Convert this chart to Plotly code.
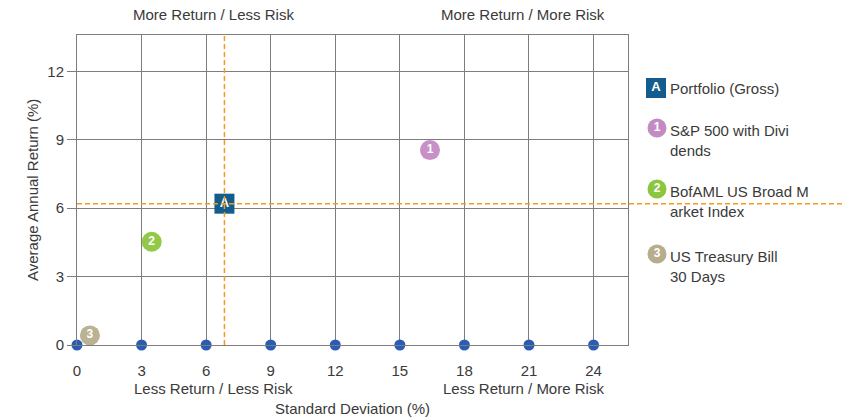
import plotly.graph_objects as go

# Risk / return data
portfolio_name = "Portfolio (Gross)"
portfolio_sd = [6.85]
portfolio_ret = [6.2]

bench_labels = ["1", "2", "3"]
bench_names = [["S&P 500 with Divi", "dends"],
               ["BofAML US Broad M", "arket Index"],
               ["US Treasury Bill", "30 Days"]]
bench_sd = [16.4, 3.47, 0.6]
bench_ret = [8.55, 4.53, 0.42]
bench_colors = ["#c48ac4", "#8cc63e", "#b7ad8d"]

x_ticks = [0, 3, 6, 9, 12, 15, 18, 21, 24]
y_ticks = [0, 3, 6, 9, 12]

FONT = "Liberation Sans, Arial, sans-serif"
FS = 15
TXT = "#3a3a3a"
GRID = "#7d7d7d"
ORANGE = "#f59a1c"
BLUE_SQ = "#135d8e"
DOT = "#2a5cb4"

W, H = 842, 420
L, R, T, B = 77, 0, 35, 75
PW = W - L - R
PH = H - T - B
plot_right = 628
xdom = (plot_right - L) / PW

fig = go.Figure()

# tick dots along the x axis
fig.add_trace(go.Scatter(
    x=x_ticks, y=[0] * len(x_ticks), mode="markers",
    marker=dict(size=11, color=DOT), cliponaxis=False,
    hoverinfo="skip", showlegend=False))

# benchmarks
for lab, sd, ret, col in zip(bench_labels, bench_sd, bench_ret, bench_colors):
    fig.add_trace(go.Scatter(
        x=[sd], y=[ret], mode="markers+text", text=["<b>" + lab + "</b>"],
        textposition="middle center",
        textfont=dict(family=FONT, size=12, color="white"),
        marker=dict(size=20, color=col, opacity=0.95),
        cliponaxis=False, showlegend=False))

# portfolio
fig.add_trace(go.Scatter(
    x=portfolio_sd, y=portfolio_ret, mode="markers+text", text=["<b>A</b>"],
    textposition="middle center",
    textfont=dict(family=FONT, size=13, color="white"),
    marker=dict(size=20, symbol="square", color=BLUE_SQ),
    cliponaxis=False, showlegend=False))

# legend panel on a pixel-scaled overlay axis
leg_items = [("A", BLUE_SQ, "square", 656, 88, [portfolio_name])]
leg_y = [128, 189, 254]
for lab, col, names, ly in zip(bench_labels, bench_colors, bench_names, leg_y):
    leg_items.append((lab, col, "circle", 657, ly, names))

for lab, col, sym, lx, ly, names in leg_items:
    fig.add_trace(go.Scatter(
        x=[lx], y=[ly], mode="markers+text", text=["<b>" + lab + "</b>"],
        textposition="middle center",
        textfont=dict(family=FONT, size=12 if sym == "circle" else 13, color="white"),
        marker=dict(size=19 if sym == "circle" else 20, symbol=sym, color=col),
        xaxis="x2", yaxis="y2", cliponaxis=False, showlegend=False,
        hoverinfo="skip"))

annotations = []
for lab, col, sym, lx, ly, names in leg_items:
    ty = ly + (0 if sym == "square" else 2)
    for i, line in enumerate(names):
        annotations.append(dict(
            x=668, y=ty + i * 20.5, xref="x2", yref="y2", text=line,
            showarrow=False, xanchor="left", yanchor="middle",
            font=dict(family=FONT, size=FS, color=TXT)))


def px_x(px):
    return (px - L) / PW


def px_y(py):
    return (T + PH - py) / PH


quad = [("More Return / Less Risk", 213, 14),
        ("More Return / More Risk", 523, 14),
        ("Less Return / Less Risk", 213, 388),
        ("Less Return / More Risk", 523, 388)]
for txt, cx, cy in quad:
    annotations.append(dict(
        x=px_x(cx), y=px_y(cy), xref="paper", yref="paper", text=txt,
        showarrow=False, xanchor="center", yanchor="middle",
        font=dict(family=FONT, size=FS, color=TXT)))

annotations.append(dict(
    x=px_x(352), y=px_y(408), xref="paper", yref="paper",
    text="Standard Deviation (%)", showarrow=False,
    xanchor="center", yanchor="middle",
    font=dict(family=FONT, size=FS, color=TXT)))
annotations.append(dict(
    x=px_x(32), y=px_y(190), xref="paper", yref="paper",
    text="Average Annual Return (%)", showarrow=False, textangle=-90,
    xanchor="center", yanchor="middle",
    font=dict(family=FONT, size=FS, color=TXT)))

shapes = [
    dict(type="line", xref="x", yref="paper",
         x0=portfolio_sd[0], x1=portfolio_sd[0], y0=0, y1=1,
         line=dict(color=ORANGE, width=1.5, dash="5px,3px"), layer="above"),
    dict(type="line", xref="paper", yref="y",
         x0=0, x1=1, y0=portfolio_ret[0], y1=portfolio_ret[0],
         line=dict(color=ORANGE, width=1.5, dash="5px,3px"), layer="above"),
]

fig.update_layout(
    width=W, height=H,
    margin=dict(l=L, r=R, t=T, b=B),
    paper_bgcolor="white", plot_bgcolor="white",
    font=dict(family=FONT, size=FS, color=TXT),
    xaxis=dict(domain=[0, xdom], range=[0, 25.6], tickvals=x_ticks,
               showgrid=True, gridcolor=GRID, gridwidth=1,
               zeroline=False, showline=True, linecolor=GRID, mirror=True,
               ticks="outside", ticklen=12, tickcolor="rgba(0,0,0,0)",
               tickfont=dict(family=FONT, size=FS, color=TXT)),
    yaxis=dict(range=[0, 13.6], tickvals=y_ticks,
               showgrid=True, gridcolor=GRID, gridwidth=1,
               zeroline=False, showline=True, linecolor=GRID, mirror=True,
               ticks="outside", ticklen=9, tickcolor=GRID,
               tickfont=dict(family=FONT, size=FS, color=TXT)),
    xaxis2=dict(domain=[xdom, 1], range=[plot_right, W], visible=False,
                fixedrange=True),
    yaxis2=dict(domain=[0, 1], range=[T + PH, T], visible=False,
                anchor="x2", fixedrange=True),
    annotations=annotations,
    shapes=shapes,
    showlegend=False,
)

fig.write_html("out.html")
